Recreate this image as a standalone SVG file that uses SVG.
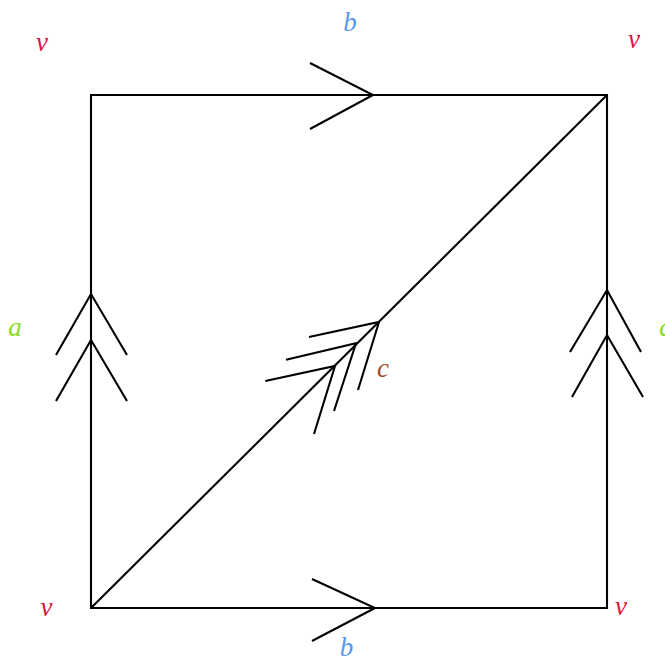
<svg xmlns="http://www.w3.org/2000/svg" width="665" height="658" viewBox="0 0 665 658">
<style>
.e{fill:none;stroke:#000;stroke-width:2.1;stroke-linecap:butt;stroke-linejoin:miter}
.l{font-family:"Liberation Serif",serif;font-style:italic;font-size:27px;text-anchor:middle}
.v{fill:#dc143c}.b{fill:#5599ee}.a{fill:#88dd22}.c{fill:#a0522d}
</style>
<rect width="665" height="658" fill="#fff"/>
<g id="edges">
<path class="e" d="M91,95H607V608H91Z"/>
<path class="e" d="M91,608L607,95"/>
<path class="e" d="M310,63L373,95L310,129"/>
<path class="e" d="M312,579L375,608L312,641"/>
<path class="e" d="M56,355L91,294L127,355M56,401L91,340L127,401"/>
<path class="e" d="M570,352L607,290L641,352M572,397L607,335L643,397"/>
<path class="e" d="M309,337L379,322L358,390M286,359.7L356,343.3L334,411M265.3,381L335,366L314,434"/>
</g>
<g id="v1"><text class="l v" x="42" y="51">v</text></g>
<g id="v2"><text class="l v" x="634" y="48">v</text></g>
<g id="v3"><text class="l v" x="46.5" y="616">v</text></g>
<g id="v4"><text class="l v" x="621" y="615">v</text></g>
<g id="b1"><text class="l b" x="350" y="31">b</text></g>
<g id="b2"><text class="l b" x="346.5" y="656">b</text></g>
<g id="a1"><text class="l a" x="15" y="336">a</text></g>
<g id="a2"><text class="l a" x="666" y="336">a</text></g>
<g id="c1"><text class="l c" x="383" y="377">c</text></g>
</svg>
